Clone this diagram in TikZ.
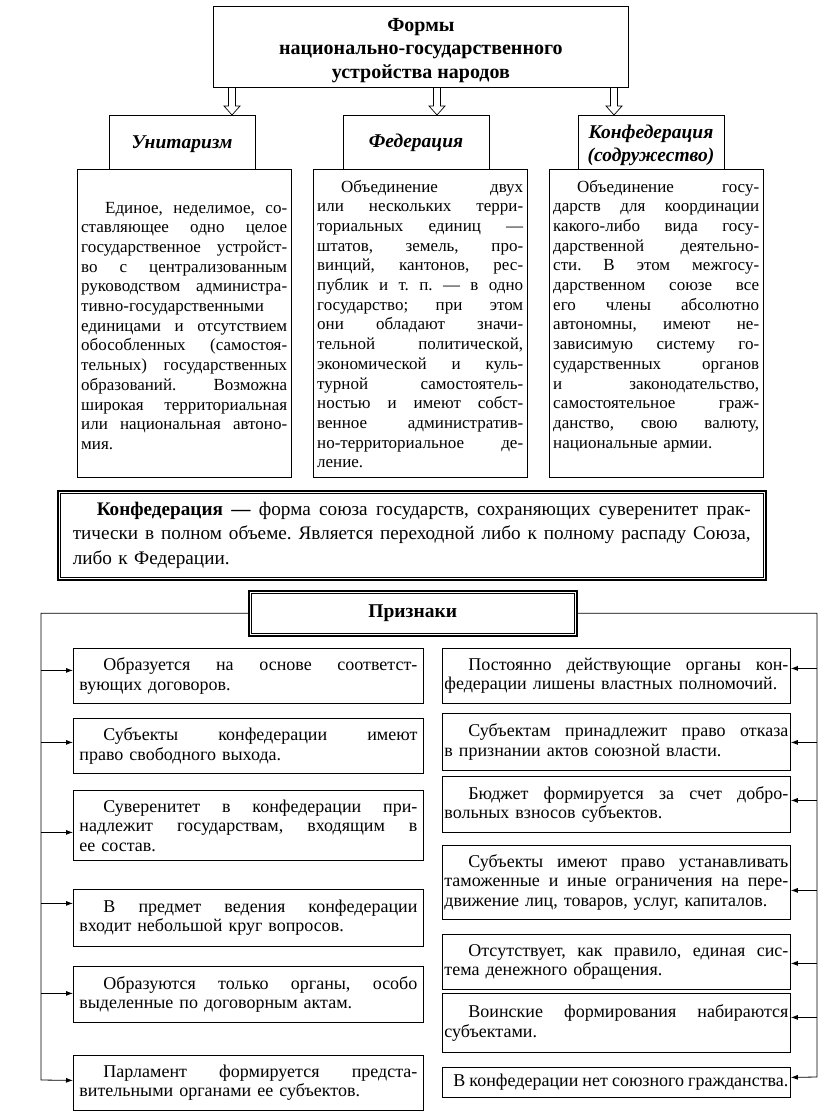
\documentclass[tikz,border=0pt]{standalone}
\usepackage{fontspec}
\setmainfont{Liberation Serif}
\usetikzlibrary{arrows.meta}
\newcommand{\jl}[2]{\noindent\hbox to #1{\frenchspacing\spaceskip=0.25em plus 1fil minus 0.05em\relax #2}\par}
\newcommand{\ja}{\jl{206pt}}
\newcommand{\jb}{\jl{338pt}}
\newcommand{\jc}{\jl{344pt}}
\newcommand{\jd}{\jl{678pt}}
\newcommand{\eline}[1]{\noindent\hbox{\frenchspacing #1}\par}
\newcommand{\pind}{\hspace*{24pt}}
\tikzset{
  box/.style={draw, line width=0.8pt, inner sep=0pt},
  hdr/.style={box, minimum width=146pt, minimum height=54pt, anchor=north, align=center,
    font=\bfseries\itshape\fontsize{19.5}{23}\selectfont},
  cbox/.style={box, minimum width=214pt, minimum height=308pt, anchor=north west},
  btext/.style={text width=206pt, inner sep=0pt, anchor=base west,
    font=\fontsize{17}{19.7}\selectfont},
  lbox/.style={box, text width=338pt, inner xsep=6pt, anchor=north west,
    font=\fontsize{18}{19.5}\selectfont},
  rbox/.style={box, text width=344pt, inner xsep=2pt, anchor=north west,
    font=\fontsize{18}{19.5}\selectfont},
  hollow/.style={draw, line width=0.7pt},
  conn/.style={draw, line width=0.8pt},
  arr/.style={conn, -{Latex[length=7pt,width=5pt]}},
}
\begin{document}
\begin{tikzpicture}[x=1pt,y=-1pt]
\useasboundingbox (0,0) rectangle (822,1114);

% title
\node[box, minimum width=415pt, minimum height=81pt, anchor=north west] (top) at (213,6) {};
\node[align=center, inner sep=0pt, font=\bfseries\fontsize{20}{23.5}\selectfont] (toptext)
  at ([yshift=-3.5pt]top.center) {Формы\\национально-государственного\\устройства народов};

% hollow arrows
\coordinate (a1) at (232,88);
\coordinate (a2) at (437,88);
\coordinate (a3) at (614,88);
\foreach \a in {a1,a2,a3}{
  \draw[hollow] (\a) ++(-3.5,0) -- ++(0,18) -- ++(-4.5,0) -- ++(8,9) -- ++(8,-9) -- ++(-4.5,0) -- ++(0,-18);
}

% headers
\node[hdr] (uh) at (182,115) {\rule{0pt}{17pt}Унитаризм};
\node[hdr] (fh) at (416,115) {Федерация};
\node[hdr] (kh) at (651,115) {\rule{0pt}{20pt}Конфедерация\\(содружество)};

% content boxes
\node[cbox] (ub) at (77,169) {};
\node[cbox] (fb) at (313,169) {};
\node[cbox] (kb) at (549,169) {};

\node[btext] (ut) at (81,213) {%
\ja{\pind Единое, неделимое, со-}%
\ja{ставляющее одно целое}%
\ja{государственное устройст-}%
\ja{во с централизованным}%
\ja{руководством администра-}%
\eline{тивно-государственными}%
\ja{единицами и отсутствием}%
\ja{обособленных (самостоя-}%
\ja{тельных) государственных}%
\ja{образований. Возможна}%
\ja{широкая территориальная}%
\ja{или национальная автоно-}%
\eline{мия.}};

\node[btext] (ft) at (317,192) {%
\ja{\pind Объединение двух}%
\ja{или нескольких терри-}%
\ja{ториальных единиц —}%
\ja{штатов, земель, про-}%
\ja{винций, кантонов, рес-}%
\ja{публик и т. п. — в одно}%
\ja{государство; при этом}%
\ja{они обладают значи-}%
\ja{тельной политической,}%
\ja{экономической и куль-}%
\ja{турной самостоятель-}%
\ja{ностью и имеют собст-}%
\ja{венное административ-}%
\ja{но-территориальное де-}%
\eline{ление.}};

\node[btext] (kt) at (553,192) {%
\ja{\pind Объединение госу-}%
\ja{дарств для координации}%
\ja{какого-либо вида госу-}%
\ja{дарственной деятельно-}%
\ja{сти. В этом межгосу-}%
\ja{дарственном союзе все}%
\ja{его члены абсолютно}%
\ja{автономны, имеют не-}%
\ja{зависимую систему го-}%
\ja{сударственных органов}%
\ja{и законодательство,}%
\ja{самостоятельное граж-}%
\ja{данство, свою валюту,}%
\eline{национальные армии.}};

% definition
\node[box, line width=1.5pt, minimum width=708pt, minimum height=89pt, anchor=north west,
  text width=678pt, inner xsep=15pt, font=\fontsize{19.2}{24.3}\selectfont] (def) at (57,490) {%
\jd{\pind\textbf{Конфедерация —} форма союза государств, сохраняющих суверенитет прак-}%
\jd{тически в полном объеме. Является переходной либо к полному распаду Союза,}%
\eline{либо к Федерации.}};
\draw[line width=0.7pt] ([shift={(3.5,3.5)}]def.north west) rectangle ([shift={(-3.5,-3.5)}]def.south east);

% Priznaki
\node[box, line width=1.5pt, minimum width=328pt, minimum height=45pt, anchor=north west,
  font=\bfseries\fontsize{19.5}{22}\selectfont] (prz) at (248,590) {Признаки};
\draw[line width=0.7pt] ([shift={(3.5,3.5)}]prz.north west) rectangle ([shift={(-3.5,-3.5)}]prz.south east);

% left column
\node[lbox, minimum height=55pt] (L1) at (73,648) {\jb{\pind Образуется на основе соответст-}\eline{вующих договоров.}};
\node[lbox, minimum height=55pt] (L2) at (73,718) {\jb{\pind Субъекты конфедерации имеют}\eline{право свободного выхода.}};
\node[lbox, minimum height=70pt] (L3) at (73,790) {\jb{\pind Суверенитет в конфедерации при-}\jb{надлежит государствам, входящим в}\eline{ее состав.}};
\node[lbox, minimum height=57pt] (L4) at (73,889) {\jb{\pind В предмет ведения конфедерации}\eline{входит небольшой круг вопросов.}};
\node[lbox, minimum height=56pt] (L5) at (73,966) {\jb{\pind Образуются только органы, особо}\eline{выделенные по договорным актам.}};
\node[lbox, minimum height=55pt] (L6) at (73,1055) {\jb{\pind Парламент формируется предста-}\eline{вительными органами ее субъектов.}};

% right column
\node[rbox, minimum height=55pt] (R1) at (442,648) {\jc{\pind Постоянно действующие органы кон-}\eline{федерации лишены властных полномочий.}};
\node[rbox, minimum height=57pt] (R2) at (442,713) {\jc{\pind Субъектам принадлежит право отказа}\eline{в признании актов союзной власти.}};
\node[rbox, minimum height=56pt] (R3) at (442,776) {\jc{\pind Бюджет формируется за счет добро-}\eline{вольных взносов субъектов.}};
\node[rbox, minimum height=74pt] (R4) at (442,845) {\jc{\pind Субъекты имеют право устанавливать}\jc{таможенные и иные ограничения на пере-}\eline{движение лиц, товаров, услуг, капиталов.}};
\node[rbox, minimum height=55pt] (R5) at (442,934) {\jc{\pind Отсутствует, как правило, единая сис-}\eline{тема денежного обращения.}};
\node[rbox, minimum height=59pt] (R6) at (442,993) {\jc{\pind Воинские формирования набираются}\eline{субъектами.}};
\node[rbox, minimum height=30pt] (R7) at (442,1067) {\jc{\hspace*{9pt}В конфедерации нет союзного гражданства.}};

% buses
\coordinate (lb) at (41,1080);
\coordinate (rb) at (817,1077);
\draw[arr] (prz.west) -| (lb) -- ([yshift=2.5pt]L6.west);
\draw[arr] (prz.east) -| (rb) -- ([yshift=5pt]R7.east);
\foreach \n/\s in {L1/5.5,L2/3.5,L3/-7,L4/14.5,L5/1}{
  \draw[arr] ([yshift=\s pt]\n.west -| lb) -- ([yshift=\s pt]\n.west);
}
\foreach \n/\s in {R1/7.5,R2/-0.5,R3/4,R4/-8,R5/-1.5,R6/5.5}{
  \draw[arr] ([yshift=\s pt]\n.east -| rb) -- ([yshift=\s pt]\n.east);
}
\end{tikzpicture}
\end{document}
